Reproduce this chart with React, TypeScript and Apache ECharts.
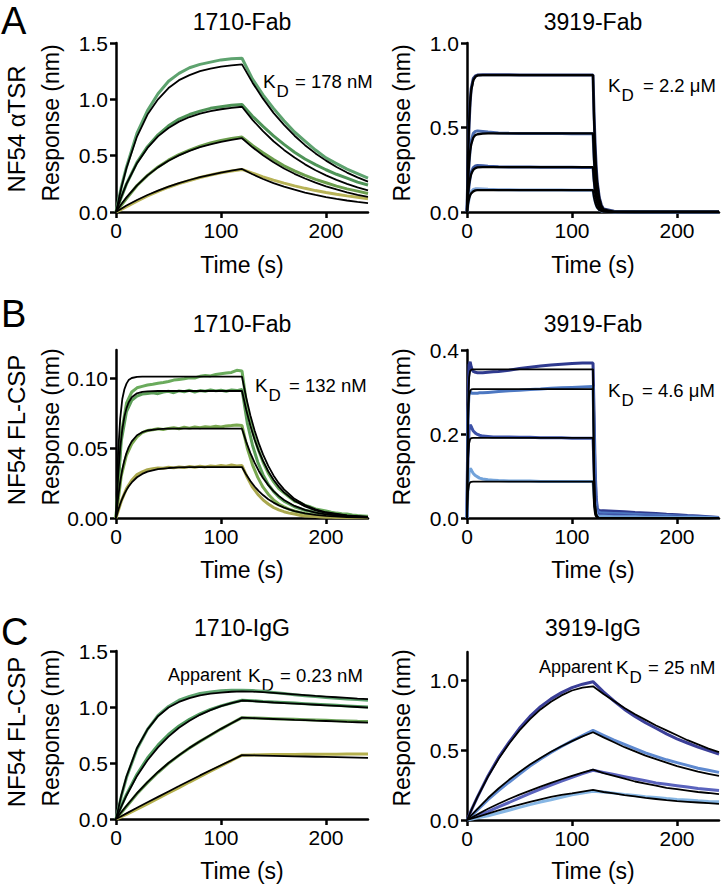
import React, { useEffect, useRef } from "react";
import * as echarts from "echarts";

const FONT = "'Liberation Sans', Arial, Helvetica, sans-serif";

// ---------- x ticks ----------
const timeTicks = [0, 100, 200];

// ---------- Panel A left: NF54 αTSR, 1710-Fab ----------
const tSlow = [0, 5, 10, 20, 30, 40, 50, 60, 70, 80, 90, 100, 110, 120, 130, 140, 150, 160, 170, 180, 190, 200, 210, 220, 230, 240];
const a1Data1 = [0, 0.22, 0.4, 0.7, 0.9, 1.05, 1.16, 1.23, 1.28, 1.31, 1.33, 1.35, 1.36, 1.365, 1.18, 1.04, 0.92, 0.81, 0.71, 0.63, 0.55, 0.48, 0.43, 0.38, 0.34, 0.3];
const a1Data2 = [0, 0.13, 0.25, 0.44, 0.58, 0.685, 0.765, 0.825, 0.865, 0.895, 0.92, 0.935, 0.948, 0.955, 0.85, 0.76, 0.675, 0.6, 0.53, 0.47, 0.42, 0.375, 0.335, 0.3, 0.265, 0.24];
const a1Data3 = [0, 0.06, 0.12, 0.235, 0.325, 0.4, 0.46, 0.51, 0.55, 0.585, 0.612, 0.635, 0.652, 0.665, 0.59, 0.525, 0.465, 0.41, 0.365, 0.325, 0.29, 0.26, 0.23, 0.205, 0.185, 0.165];
const a1Data4 = [0, 0.022, 0.047, 0.097, 0.142, 0.183, 0.22, 0.252, 0.28, 0.306, 0.328, 0.348, 0.364, 0.378, 0.345, 0.312, 0.283, 0.256, 0.232, 0.21, 0.19, 0.173, 0.157, 0.143, 0.13, 0.118];
const a1Fit1 = [0, 0.213, 0.39, 0.67, 0.865, 1.0, 1.1, 1.17, 1.215, 1.25, 1.273, 1.29, 1.302, 1.31, 1.148, 1.006, 0.88, 0.773, 0.677, 0.593, 0.52, 0.456, 0.4, 0.35, 0.307, 0.27];
const a1Fit2 = [0, 0.133, 0.249, 0.433, 0.569, 0.671, 0.746, 0.802, 0.843, 0.873, 0.896, 0.912, 0.925, 0.934, 0.818, 0.717, 0.628, 0.551, 0.483, 0.423, 0.371, 0.325, 0.285, 0.25, 0.219, 0.192];
const a1Fit3 = [0, 0.069, 0.13, 0.237, 0.325, 0.396, 0.455, 0.503, 0.542, 0.575, 0.601, 0.623, 0.64, 0.655, 0.574, 0.503, 0.441, 0.386, 0.339, 0.297, 0.26, 0.228, 0.2, 0.175, 0.153, 0.134];
const a1Fit4 = [0, 0.029, 0.057, 0.107, 0.151, 0.19, 0.226, 0.257, 0.284, 0.309, 0.33, 0.35, 0.367, 0.382, 0.335, 0.293, 0.257, 0.225, 0.198, 0.173, 0.152, 0.133, 0.117, 0.102, 0.09, 0.079];

// ---------- Panel A right: NF54 αTSR, 3919-Fab ----------
const tA2 = [0, 1, 2, 3, 4, 6, 8, 10, 15, 20, 30, 40, 50, 60, 70, 80, 90, 100, 110, 120, 121, 122, 123, 124, 126, 128, 130, 140, 160, 180, 200, 220, 240];
const a2Data1 = [0, 0.3, 0.52, 0.65, 0.73, 0.79, 0.805, 0.81, 0.812, 0.812, 0.812, 0.812, 0.811, 0.811, 0.811, 0.81, 0.81, 0.81, 0.81, 0.81, 0.58, 0.4, 0.27, 0.18, 0.085, 0.04, 0.018, 0.004, 0.001, 0, 0, 0, 0];
const a2Data2 = [0, 0.17, 0.29, 0.37, 0.42, 0.465, 0.477, 0.48, 0.477, 0.473, 0.468, 0.466, 0.465, 0.465, 0.464, 0.464, 0.464, 0.463, 0.463, 0.463, 0.33, 0.22, 0.15, 0.1, 0.05, 0.022, 0.011, 0.002, 0.001, 0, 0, 0, 0];
const a2Data3 = [0, 0.09, 0.16, 0.205, 0.235, 0.262, 0.272, 0.275, 0.273, 0.271, 0.268, 0.267, 0.266, 0.266, 0.265, 0.265, 0.265, 0.265, 0.264, 0.264, 0.19, 0.13, 0.085, 0.058, 0.027, 0.013, 0.006, 0.001, 0, 0, 0, 0, 0];
const a2Data4 = [0, 0.045, 0.08, 0.105, 0.12, 0.133, 0.137, 0.138, 0.136, 0.134, 0.132, 0.131, 0.13, 0.13, 0.13, 0.13, 0.13, 0.129, 0.129, 0.129, 0.092, 0.063, 0.042, 0.028, 0.013, 0.006, 0.003, 0, 0, 0, 0, 0, 0];
const a2Fit1 = [0, 0.33, 0.53, 0.65, 0.72, 0.78, 0.8, 0.808, 0.81, 0.81, 0.81, 0.81, 0.81, 0.81, 0.81, 0.81, 0.81, 0.81, 0.81, 0.81, 0.55, 0.37, 0.25, 0.17, 0.08, 0.035, 0.015, 0.001, 0, 0, 0, 0, 0];
const a2Fit2 = [0, 0.18, 0.29, 0.36, 0.4, 0.44, 0.455, 0.46, 0.464, 0.465, 0.465, 0.465, 0.465, 0.465, 0.465, 0.465, 0.465, 0.465, 0.465, 0.465, 0.31, 0.21, 0.14, 0.095, 0.045, 0.02, 0.01, 0.001, 0, 0, 0, 0, 0];
const a2Fit3 = [0, 0.1, 0.165, 0.2, 0.225, 0.25, 0.26, 0.264, 0.265, 0.265, 0.265, 0.265, 0.265, 0.265, 0.265, 0.265, 0.265, 0.265, 0.265, 0.265, 0.18, 0.12, 0.08, 0.055, 0.025, 0.012, 0.005, 0.001, 0, 0, 0, 0, 0];
const a2Fit4 = [0, 0.05, 0.08, 0.1, 0.11, 0.122, 0.128, 0.13, 0.13, 0.13, 0.13, 0.13, 0.13, 0.13, 0.13, 0.13, 0.13, 0.13, 0.13, 0.13, 0.088, 0.06, 0.04, 0.027, 0.012, 0.006, 0.002, 0, 0, 0, 0, 0, 0];

// ---------- Panel B left: NF54 FL-CSP, 1710-Fab ----------
const tB1Data = [0, 5, 10, 15, 20, 25, 30, 35, 40, 45, 50, 55, 60, 65, 70, 75, 80, 85, 90, 95, 100, 105, 110, 115, 120, 125, 130, 135, 140, 145, 150, 155, 160, 165, 170, 175, 180, 185, 190, 195, 200, 205, 210, 215, 220, 225, 230, 235, 240];
const b1Data1 = [0, 0.06, 0.082, 0.09, 0.093, 0.094, 0.095, 0.0955, 0.0962, 0.0968, 0.0975, 0.0985, 0.099, 0.0995, 0.1002, 0.1, 0.1012, 0.1018, 0.1015, 0.1025, 0.103, 0.1035, 0.104, 0.1055, 0.105, 0.078, 0.062, 0.05, 0.04, 0.032, 0.026, 0.021, 0.018, 0.015, 0.012, 0.011, 0.009, 0.008, 0.0065, 0.0058, 0.005, 0.0042, 0.0035, 0.003, 0.0028, 0.0022, 0.0018, 0.0015, 0.0012];
const b1Data2 = [0, 0.055, 0.076, 0.084, 0.087, 0.0885, 0.089, 0.0895, 0.0888, 0.09, 0.0905, 0.0895, 0.0908, 0.0902, 0.0912, 0.09, 0.091, 0.0905, 0.0915, 0.0908, 0.0912, 0.0905, 0.0915, 0.091, 0.0918, 0.068, 0.052, 0.04, 0.031, 0.024, 0.019, 0.015, 0.012, 0.01, 0.008, 0.0068, 0.0055, 0.0048, 0.004, 0.0035, 0.003, 0.0025, 0.002, 0.0018, 0.0015, 0.0012, 0.001, 0.0008, 0.0006];
const b1Data3 = [0, 0.03, 0.045, 0.053, 0.058, 0.061, 0.0625, 0.063, 0.0638, 0.0632, 0.064, 0.0645, 0.0638, 0.0648, 0.0642, 0.065, 0.0645, 0.0652, 0.0648, 0.0655, 0.065, 0.0658, 0.066, 0.0665, 0.066, 0.05, 0.038, 0.029, 0.022, 0.017, 0.013, 0.01, 0.008, 0.0062, 0.005, 0.004, 0.0032, 0.0025, 0.002, 0.0016, 0.0013, 0.001, 0.0008, 0.0007, 0.0006, 0.0005, 0.0004, 0.0003, 0.0003];
const b1Data4 = [0, 0.012, 0.021, 0.027, 0.031, 0.033, 0.0345, 0.0352, 0.0358, 0.0355, 0.0362, 0.0358, 0.0365, 0.036, 0.0368, 0.0362, 0.037, 0.0365, 0.0372, 0.0368, 0.0375, 0.037, 0.0378, 0.0372, 0.0375, 0.029, 0.022, 0.017, 0.013, 0.01, 0.0075, 0.0058, 0.0045, 0.0035, 0.0028, 0.002, 0.0015, 0.0012, 0.001, 0.0008, 0.0006, 0.0005, 0.0004, 0.0003, 0.0002, 0.0002, 0.0001, 0.0001, 0];
const tB1Fit = [0, 2, 4, 6, 8, 10, 12, 15, 20, 25, 30, 40, 50, 60, 70, 80, 90, 100, 110, 120, 124, 128, 132, 136, 140, 145, 150, 155, 160, 170, 180, 190, 200, 220, 240];
const b1Fit1 = [0, 0.046, 0.071, 0.085, 0.092, 0.096, 0.0985, 0.1, 0.1008, 0.101, 0.101, 0.101, 0.101, 0.101, 0.101, 0.101, 0.101, 0.101, 0.101, 0.101, 0.086, 0.0733, 0.0625, 0.0533, 0.0454, 0.0372, 0.0304, 0.0249, 0.0204, 0.0137, 0.0092, 0.0062, 0.0041, 0.0018, 0.0008];
const b1Fit2 = [0, 0.0299, 0.05, 0.0634, 0.0724, 0.0785, 0.0825, 0.0862, 0.0891, 0.0901, 0.0905, 0.0907, 0.0907, 0.0907, 0.0907, 0.0907, 0.0907, 0.0907, 0.0907, 0.0907, 0.0773, 0.0659, 0.0561, 0.0478, 0.0408, 0.0334, 0.0273, 0.0224, 0.0183, 0.0123, 0.0082, 0.0055, 0.0037, 0.0017, 0.0007];
const b1Fit3 = [0, 0.0146, 0.0258, 0.0346, 0.0413, 0.0464, 0.0504, 0.0547, 0.0591, 0.0613, 0.0625, 0.0635, 0.0638, 0.0638, 0.0638, 0.0638, 0.0638, 0.0638, 0.0638, 0.0638, 0.0544, 0.0463, 0.0395, 0.0336, 0.0286, 0.0235, 0.0192, 0.0158, 0.0129, 0.0086, 0.0058, 0.0039, 0.0026, 0.0012, 0.0005];
const b1Fit4 = [0, 0.0054, 0.01, 0.0139, 0.0172, 0.0201, 0.0225, 0.0254, 0.0291, 0.0315, 0.0331, 0.0349, 0.0357, 0.0361, 0.0363, 0.0364, 0.0364, 0.0364, 0.0364, 0.0364, 0.031, 0.0264, 0.0225, 0.0192, 0.0164, 0.0134, 0.011, 0.009, 0.0074, 0.0049, 0.0033, 0.0022, 0.0015, 0.0007, 0.0003];

// ---------- Panel B right: NF54 FL-CSP, 3919-Fab ----------
const tB2Data = [0, 1, 2, 3, 4, 5, 6, 8, 10, 12, 15, 20, 25, 30, 40, 50, 60, 70, 80, 90, 100, 110, 120, 121, 122, 123, 124, 125, 126, 128, 130, 140, 150, 160, 170, 180, 190, 200, 210, 220, 230, 240];
const b2Data1 = [0, 0.3, 0.365, 0.372, 0.36, 0.352, 0.349, 0.347, 0.346, 0.346, 0.346, 0.347, 0.348, 0.349, 0.352, 0.356, 0.359, 0.362, 0.364, 0.366, 0.368, 0.369, 0.369, 0.25, 0.12, 0.05, 0.025, 0.019, 0.018, 0.017, 0.017, 0.016, 0.015, 0.013, 0.012, 0.011, 0.009, 0.008, 0.006, 0.005, 0.003, 0.001];
const b2Data2 = [0, 0.25, 0.3, 0.302, 0.298, 0.297, 0.297, 0.297, 0.297, 0.298, 0.298, 0.299, 0.3, 0.301, 0.303, 0.304, 0.306, 0.307, 0.309, 0.31, 0.311, 0.312, 0.313, 0.2, 0.1, 0.04, 0.02, 0.014, 0.013, 0.012, 0.012, 0.011, 0.01, 0.009, 0.008, 0.007, 0.006, 0.005, 0.004, 0.003, 0.002, 0.001];
const b2Data3 = [0, 0.15, 0.21, 0.222, 0.218, 0.212, 0.207, 0.202, 0.199, 0.197, 0.195, 0.194, 0.193, 0.193, 0.193, 0.192, 0.192, 0.191, 0.191, 0.191, 0.19, 0.19, 0.19, 0.12, 0.06, 0.025, 0.012, 0.009, 0.008, 0.008, 0.007, 0.007, 0.006, 0.005, 0.005, 0.004, 0.003, 0.003, 0.002, 0.002, 0.001, 0.001];
const b2Data4 = [0, 0.08, 0.11, 0.118, 0.115, 0.11, 0.106, 0.101, 0.098, 0.095, 0.093, 0.091, 0.09, 0.089, 0.088, 0.088, 0.088, 0.087, 0.087, 0.087, 0.087, 0.087, 0.087, 0.055, 0.028, 0.012, 0.006, 0.005, 0.004, 0.004, 0.004, 0.003, 0.003, 0.003, 0.002, 0.002, 0.002, 0.001, 0.001, 0.001, 0.001, 0];
const tB2Fit = [0, 1, 2, 3, 4, 6, 8, 10, 20, 30, 40, 50, 60, 70, 80, 90, 100, 110, 120, 121, 122, 123, 124, 126, 128, 130, 140, 160, 180, 200, 220, 240];
const b2Fit1 = [0, 0.27, 0.335, 0.35, 0.353, 0.354, 0.354, 0.354, 0.354, 0.354, 0.354, 0.354, 0.354, 0.354, 0.354, 0.354, 0.354, 0.354, 0.354, 0.11, 0.035, 0.011, 0.003, 0, 0, 0, 0, 0, 0, 0, 0, 0];
const b2Fit2 = [0, 0.23, 0.29, 0.303, 0.306, 0.307, 0.307, 0.307, 0.307, 0.307, 0.307, 0.307, 0.307, 0.307, 0.307, 0.307, 0.307, 0.307, 0.307, 0.095, 0.03, 0.009, 0.003, 0, 0, 0, 0, 0, 0, 0, 0, 0];
const b2Fit3 = [0, 0.14, 0.178, 0.188, 0.19, 0.191, 0.191, 0.191, 0.191, 0.191, 0.191, 0.191, 0.191, 0.191, 0.191, 0.191, 0.191, 0.191, 0.191, 0.06, 0.018, 0.006, 0.002, 0, 0, 0, 0, 0, 0, 0, 0, 0];
const b2Fit4 = [0, 0.062, 0.08, 0.085, 0.086, 0.0865, 0.0865, 0.0865, 0.0865, 0.0865, 0.0865, 0.0865, 0.0865, 0.0865, 0.0865, 0.0865, 0.0865, 0.0865, 0.0865, 0.027, 0.008, 0.003, 0.001, 0, 0, 0, 0, 0, 0, 0, 0, 0];

// ---------- Panel C left: NF54 FL-CSP, 1710-IgG ----------
const c1Data1 = [0, 0.2, 0.37, 0.625, 0.8, 0.925, 1.005, 1.06, 1.095, 1.12, 1.135, 1.145, 1.15, 1.15, 1.147, 1.14, 1.13, 1.12, 1.11, 1.1, 1.093, 1.085, 1.078, 1.072, 1.066, 1.06];
const c1Data2 = [0, 0.115, 0.22, 0.4, 0.545, 0.66, 0.755, 0.83, 0.89, 0.938, 0.978, 1.01, 1.036, 1.06, 1.056, 1.05, 1.045, 1.04, 1.035, 1.03, 1.025, 1.02, 1.015, 1.01, 1.005, 1.0];
const c1Data3 = [0, 0.055, 0.112, 0.225, 0.325, 0.415, 0.497, 0.568, 0.633, 0.693, 0.748, 0.803, 0.855, 0.905, 0.902, 0.899, 0.896, 0.893, 0.89, 0.887, 0.884, 0.881, 0.878, 0.875, 0.872, 0.87];
const c1Data4 = [0, 0.02, 0.042, 0.088, 0.135, 0.183, 0.232, 0.28, 0.33, 0.378, 0.427, 0.475, 0.522, 0.57, 0.572, 0.574, 0.575, 0.576, 0.577, 0.578, 0.578, 0.579, 0.579, 0.58, 0.58, 0.58];
const c1Fit1 = [0, 0.209, 0.38, 0.634, 0.8, 0.918, 0.995, 1.045, 1.08, 1.103, 1.119, 1.129, 1.136, 1.14, 1.137, 1.133, 1.127, 1.12, 1.113, 1.106, 1.099, 1.093, 1.087, 1.081, 1.075, 1.07];
const c1Fit2 = [0, 0.11, 0.21, 0.385, 0.525, 0.64, 0.735, 0.815, 0.877, 0.93, 0.972, 1.007, 1.035, 1.058, 1.052, 1.046, 1.04, 1.035, 1.03, 1.025, 1.02, 1.015, 1.01, 1.005, 1.0, 0.995];
const c1Fit3 = [0, 0.06, 0.118, 0.23, 0.33, 0.42, 0.5, 0.57, 0.635, 0.695, 0.75, 0.805, 0.855, 0.905, 0.901, 0.897, 0.893, 0.889, 0.885, 0.882, 0.878, 0.875, 0.871, 0.867, 0.864, 0.86];
const c1Fit4 = [0, 0.025, 0.05, 0.1, 0.15, 0.198, 0.246, 0.294, 0.342, 0.389, 0.435, 0.48, 0.525, 0.57, 0.568, 0.566, 0.564, 0.562, 0.56, 0.558, 0.556, 0.554, 0.552, 0.55, 0.548, 0.546];

// ---------- Panel C right: NF54 FL-CSP, 3919-IgG ----------
const c2Data1 = [0, 0.085, 0.165, 0.315, 0.445, 0.555, 0.655, 0.74, 0.81, 0.865, 0.91, 0.945, 0.97, 0.988, 0.915, 0.85, 0.79, 0.74, 0.695, 0.655, 0.615, 0.58, 0.55, 0.52, 0.495, 0.47];
const c2Data2 = [0, 0.035, 0.072, 0.145, 0.21, 0.27, 0.328, 0.385, 0.435, 0.482, 0.525, 0.565, 0.603, 0.64, 0.605, 0.57, 0.54, 0.51, 0.48, 0.455, 0.43, 0.41, 0.39, 0.37, 0.355, 0.34];
const c2Data3 = [0, 0.014, 0.03, 0.06, 0.093, 0.125, 0.158, 0.19, 0.22, 0.25, 0.278, 0.305, 0.331, 0.355, 0.34, 0.325, 0.31, 0.295, 0.28, 0.265, 0.255, 0.245, 0.235, 0.225, 0.218, 0.21];
const c2Data4 = [0, 0.007, 0.015, 0.03, 0.05, 0.07, 0.09, 0.11, 0.128, 0.145, 0.163, 0.18, 0.193, 0.205, 0.2, 0.192, 0.183, 0.175, 0.167, 0.16, 0.153, 0.147, 0.142, 0.137, 0.133, 0.13];
const c2Fit1 = [0, 0.085, 0.165, 0.31, 0.435, 0.545, 0.64, 0.72, 0.79, 0.845, 0.89, 0.925, 0.945, 0.955, 0.9, 0.85, 0.8, 0.755, 0.715, 0.675, 0.64, 0.605, 0.57, 0.54, 0.51, 0.485];
const c2Fit2 = [0, 0.04, 0.08, 0.157, 0.225, 0.287, 0.343, 0.396, 0.443, 0.487, 0.527, 0.563, 0.597, 0.627, 0.59, 0.555, 0.52, 0.49, 0.46, 0.435, 0.41, 0.385, 0.365, 0.345, 0.33, 0.315];
const c2Fit3 = [0, 0.02, 0.04, 0.08, 0.116, 0.15, 0.181, 0.21, 0.238, 0.265, 0.291, 0.315, 0.338, 0.36, 0.335, 0.315, 0.295, 0.275, 0.26, 0.245, 0.23, 0.22, 0.21, 0.2, 0.193, 0.185];
const c2Fit4 = [0, 0.012, 0.023, 0.045, 0.068, 0.09, 0.11, 0.13, 0.148, 0.165, 0.179, 0.19, 0.203, 0.215, 0.2, 0.19, 0.178, 0.168, 0.158, 0.15, 0.142, 0.135, 0.13, 0.125, 0.12, 0.115];

// ---------- panel definitions ----------
type Curve = { t: number[]; v: number[]; color: string; fit?: boolean; w: number };
type PanelDef = {
  left: number; top: number; height: number;
  yMax: number; yTicks: number[]; digits: number;
  curves: Curve[];
};

const GREEN_A = ["#5ea36f", "#4f9458", "#6c9e4e", "#b8b357"];
const BLUE_A = ["#2b3a78", "#4b6cb0", "#3a57a0", "#7fa3d6"];
const GREEN_B = ["#6aab5c", "#5c9e58", "#79a850", "#aaa84e"];
const BLUE_B = ["#2f3a8f", "#4d78c2", "#3d52a8", "#73a3da"];
const GREEN_C = ["#5ea36f", "#4f9a5e", "#6aa256", "#b5b04e"];
const BLUE_C = ["#3b3f98", "#5f8ad0", "#5a63bd", "#86b6e4"];

function mk(t: number[], data: number[][], fits: number[][], colors: string[], tFit?: number[], fitW = 1.8): Curve[] {
  const out: Curve[] = [];
  data.forEach((v, i) => out.push({ t, v, color: colors[i], w: 3 }));
  fits.forEach((v) => out.push({ t: tFit || t, v, color: "#000", fit: true, w: fitW }));
  return out;
}

const panels: PanelDef[] = [
  { left: 116, top: 43, height: 169, yMax: 1.5, yTicks: [0, 0.5, 1.0, 1.5], digits: 1,
    curves: mk(tSlow, [a1Data1, a1Data2, a1Data3, a1Data4], [a1Fit1, a1Fit2, a1Fit3, a1Fit4], GREEN_A) },
  { left: 467, top: 43, height: 169, yMax: 1.0, yTicks: [0, 0.5, 1.0], digits: 1,
    curves: mk(tA2, [a2Data1, a2Data2, a2Data3, a2Data4], [a2Fit1, a2Fit2, a2Fit3, a2Fit4], BLUE_A, undefined, 2.3) },
  { left: 116, top: 350, height: 168, yMax: 0.12, yTicks: [0, 0.05, 0.1], digits: 2,
    curves: mk(tB1Data, [b1Data1, b1Data2, b1Data3, b1Data4], [b1Fit1, b1Fit2, b1Fit3, b1Fit4], GREEN_B, tB1Fit) },
  { left: 467, top: 350, height: 168, yMax: 0.4, yTicks: [0, 0.2, 0.4], digits: 1,
    curves: mk(tB2Data, [b2Data1, b2Data2, b2Data3, b2Data4], [b2Fit1, b2Fit2, b2Fit3, b2Fit4], BLUE_B, tB2Fit) },
  { left: 116, top: 651, height: 168, yMax: 1.5, yTicks: [0, 0.5, 1.0, 1.5], digits: 1,
    curves: mk(tSlow, [c1Data1, c1Data2, c1Data3, c1Data4], [c1Fit1, c1Fit2, c1Fit3, c1Fit4], GREEN_C) },
  { left: 467, top: 652, height: 168, yMax: 1.2, yTicks: [0, 0.5, 1.0], digits: 1,
    curves: mk(tSlow, [c2Data1, c2Data2, c2Data3, c2Data4], [c2Fit1, c2Fit2, c2Fit3, c2Fit4], BLUE_C) },
];

const titles = ["1710-Fab", "3919-Fab", "1710-Fab", "3919-Fab", "1710-IgG", "3919-IgG"];

function buildOption() {
  const grid: any[] = [];
  const xAxis: any[] = [];
  const yAxis: any[] = [];
  const series: any[] = [];
  const axisLine = { show: true, onZero: false, lineStyle: { color: "#000", width: 2.5 } };
  panels.forEach((p, i) => {
    grid.push({ left: p.left, top: p.top, width: 252, height: p.height, containLabel: false, outerBoundsMode: "none" });
    xAxis.push({
      type: "value", gridIndex: i, min: 0, max: 240,
      axisLine,
      axisTick: { show: true, length: 6, customValues: timeTicks, lineStyle: { color: "#000", width: 2.5 } },
      axisLabel: { customValues: timeTicks, fontSize: 21, color: "#000", fontFamily: FONT, margin: 8 },
      splitLine: { show: false },
    });
    yAxis.push({
      type: "value", gridIndex: i, min: 0, max: p.yMax,
      axisLine,
      axisTick: { show: true, length: 6, customValues: p.yTicks, lineStyle: { color: "#000", width: 2.5 } },
      axisLabel: {
        customValues: p.yTicks, fontSize: 21, color: "#000", fontFamily: FONT, margin: 8,
        formatter: (v: number) => v.toFixed(p.digits),
      },
      splitLine: { show: false },
    });
    p.curves.forEach((c) => {
      series.push({
        type: "line", xAxisIndex: i, yAxisIndex: i,
        data: c.t.map((t, k) => [t, c.v[k]]),
        showSymbol: false, symbol: "none", silent: true,
        lineStyle: { color: c.color, width: c.w },
        itemStyle: { color: c.color },
        z: c.fit ? 3 : 2,
      });
    });
  });

  const txt = (text: string, x: number, y: number, size: number, align = "center", extra: any = {}) => ({
    type: "text", x, y, ...extra,
    style: {
      text, x: 0, y: 0, fill: "#000", fontSize: size, fontFamily: FONT,
      align, textAlign: align, verticalAlign: "middle", textVerticalAlign: "middle",
    },
  });
  const vtxt = (text: string, x: number, y: number, size: number) => txt(text, x, y, size, "center", { rotation: Math.PI / 2 });

  const g: any[] = [];
  const colX = [242, 593];
  const rowTitleY = [22, 324, 628];
  const rowTimeY = [265, 570, 871];
  const rowRespY = [123, 427, 728];
  titles.forEach((t, i) => g.push(txt(t, colX[i % 2], rowTitleY[Math.floor(i / 2)], 23)));
  [0, 1, 2].forEach((r) => {
    g.push(txt("Time (s)", colX[0], rowTimeY[r], 23));
    g.push(txt("Time (s)", colX[1], rowTimeY[r], 23));
    g.push(vtxt("Response (nm)", 51, rowRespY[r], 23));
    g.push(vtxt("Response (nm)", 402, rowRespY[r], 23));
  });
  g.push(txt("A", 1, 21, 38, "left"));
  g.push(txt("B", 1, 314, 38, "left"));
  g.push(txt("C", 1, 632, 38, "left"));
  g.push(vtxt("NF54 \u03b1TSR", 16, 129, 24));
  g.push(vtxt("NF54 FL-CSP", 16, 430, 24));
  g.push(vtxt("NF54 FL-CSP", 16, 732, 24));

  const kd = (kx: number, y: number, eqX: number, rest: string) => {
    g.push(txt("K", kx, y, 19, "left"));
    g.push(txt("D", kx + 13.5, y + 10, 17, "left"));
    g.push(txt(rest, eqX, y, 18.5, "left"));
  };
  kd(263, 81.5, 295, "= 178 nM");
  kd(608, 85.5, 643, "= 2.2 \u03bcM");
  kd(255, 385, 289, "= 132 nM");
  kd(608, 390, 642, "= 4.6 \u03bcM");
  g.push(txt("Apparent", 168, 675, 18, "left"));
  kd(248, 675, 280, "= 0.23 nM");
  g.push(txt("Apparent", 539, 667, 18, "left"));
  kd(616, 667, 648, "= 25 nM");

  return {
    animation: false,
    backgroundColor: "#fff",
    grid, xAxis, yAxis, series,
    graphic: { elements: g },
  };
}

export default function App() {
  const ref = useRef<HTMLDivElement>(null);
  useEffect(() => {
    if (!ref.current) return;
    const chart = echarts.init(ref.current, undefined, { renderer: "svg" });
    chart.setOption(buildOption() as any);
    return () => chart.dispose();
  }, []);
  return (
    <div
      ref={ref}
      style={{ position: "absolute", left: 0, top: 0, width: 722, height: 887, background: "#fff" }}
    />
  );
}
